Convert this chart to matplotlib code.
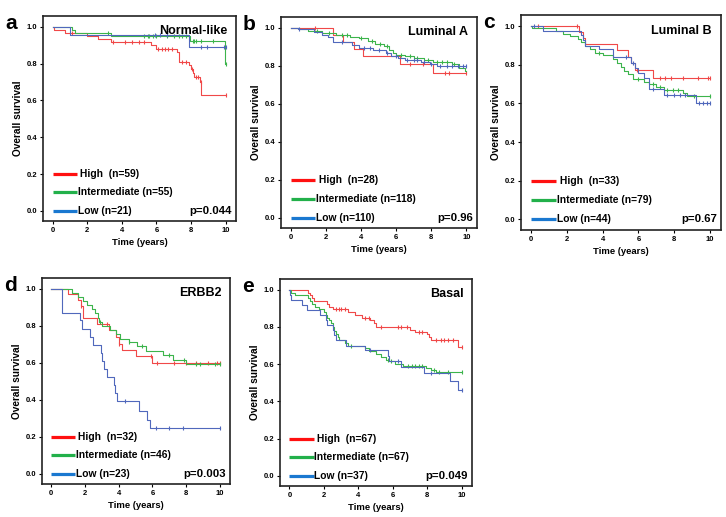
import matplotlib
matplotlib.use("Agg")
import matplotlib.pyplot as plt
import numpy as np

plt.rcParams["font.family"] = ["Liberation Sans", "DejaVu Sans"]

# ── Data: Kaplan-Meier steps (event times, survival after step, censor times) ──
groups = ["High", "Intermediate", "Low"]

# a: Normal-like
a_high_t = [0.1, 0.7, 2.0, 2.6, 3.4, 5.7, 6.0, 7.2, 7.3, 7.9, 8.0, 8.1, 8.2, 8.5, 8.6]
a_high_s = [0.983, 0.966, 0.949, 0.932, 0.915, 0.898, 0.88, 0.86, 0.81, 0.79, 0.77, 0.75, 0.726, 0.70, 0.627]
a_high_c = [1.1, 3.5, 4.2, 4.6, 5.0, 5.3, 6.1, 6.3, 6.5, 6.7, 6.9, 7.5, 7.7, 8.05, 8.3, 8.4, 8.55, 10.0]
a_int_t = [1.1, 1.3, 3.4, 7.95, 9.95]
a_int_s = [0.983, 0.967, 0.95, 0.92, 0.80]
a_int_c = [3.2, 5.3, 5.5, 5.6, 5.8, 6.0, 6.6, 7.0, 7.3, 7.5, 7.7, 8.1, 8.2, 8.3, 8.6, 9.3, 10.0]
a_low_t = [1.0, 7.9]
a_low_s = [0.955, 0.89]
a_low_c = [5.9, 6.2, 6.6, 8.6, 8.9, 9.9, 10.0]

# b: Luminal A
b_high_t = [2.4, 3.0, 3.6, 4.1, 6.2, 8.1]
b_high_s = [0.964, 0.927, 0.889, 0.852, 0.81, 0.763]
b_high_c = [1.4, 6.8, 7.5, 8.8, 9.0, 10.0]
b_int_t = [0.5, 1.0, 1.8, 2.6, 3.4, 3.9, 4.4, 4.8, 5.3, 5.6, 5.8, 6.0, 6.5, 7.0, 7.6, 8.1, 9.2, 9.6, 9.9]
b_int_s = [0.993, 0.985, 0.975, 0.965, 0.955, 0.945, 0.93, 0.915, 0.905, 0.885, 0.87, 0.86, 0.85, 0.84, 0.83, 0.82, 0.81, 0.79, 0.775]
b_int_c = [1.5, 2.2, 2.9, 3.2, 4.0, 4.6, 5.1, 5.5, 6.3, 6.8, 7.2, 7.8, 8.3, 8.6, 8.9, 9.3]
b_low_t = [0.4, 1.3, 1.8, 2.1, 2.4, 3.5, 3.9, 4.7, 5.4, 5.7, 6.1, 6.5, 7.4, 7.9, 8.3]
b_low_s = [0.993, 0.98, 0.965, 0.95, 0.925, 0.91, 0.895, 0.885, 0.87, 0.85, 0.84, 0.83, 0.82, 0.81, 0.80]
b_low_c = [0.5, 2.9, 4.2, 4.5, 5.0, 5.5, 6.0, 6.6, 7.0, 7.2, 7.6, 8.0, 8.5, 8.9, 9.2, 9.5, 9.8, 10.0]

# c: Luminal B
c_high_t = [2.7, 2.9, 3.0, 4.8, 5.4, 5.6, 5.8, 6.8]
c_high_s = [0.97, 0.94, 0.91, 0.875, 0.84, 0.81, 0.773, 0.732]
c_high_c = [0.4, 2.55, 5.9, 7.2, 7.5, 7.8, 8.5, 9.3, 9.9, 10.0]
c_int_t = [0.05, 1.4, 1.8, 2.2, 2.6, 2.8, 3.0, 3.3, 3.6, 4.0, 4.6, 4.8, 5.0, 5.2, 5.4, 5.7, 6.3, 6.6, 7.0, 7.4, 8.5, 8.7]
c_int_s = [0.99, 0.975, 0.96, 0.95, 0.935, 0.92, 0.90, 0.88, 0.86, 0.85, 0.83, 0.81, 0.79, 0.77, 0.75, 0.725, 0.71, 0.70, 0.685, 0.67, 0.655, 0.64]
c_int_c = [3.8, 6.0, 6.8, 7.2, 7.6, 7.9, 8.2, 9.1, 10.0]
c_low_t = [0.7, 2.8, 2.9, 3.0, 3.8, 4.6, 5.6, 5.8, 6.0, 6.3, 6.6, 7.4, 9.2]
c_low_s = [0.977, 0.955, 0.93, 0.90, 0.88, 0.84, 0.81, 0.785, 0.76, 0.73, 0.675, 0.645, 0.60]
c_low_c = [0.2, 5.3, 5.7, 6.8, 7.6, 8.0, 8.3, 8.6, 9.4, 9.6, 9.8, 10.0]

# d: ERBB2
d_high_t = [1.0, 1.6, 1.75, 1.9, 2.7, 3.4, 3.85, 4.0, 4.2, 5.0, 6.0]
d_high_s = [0.969, 0.938, 0.906, 0.844, 0.81, 0.775, 0.74, 0.70, 0.67, 0.635, 0.60]
d_high_c = [1.75, 3.3, 4.0, 5.9, 6.3, 7.3, 8.0, 8.6, 9.3, 9.8, 10.0]
d_int_t = [1.2, 1.6, 1.9, 2.1, 2.4, 2.6, 2.75, 2.85, 3.0, 3.5, 3.85, 4.1, 4.6, 5.1, 5.6, 6.6, 7.2, 8.0]
d_int_s = [0.978, 0.956, 0.933, 0.911, 0.889, 0.867, 0.844, 0.82, 0.80, 0.775, 0.755, 0.73, 0.71, 0.69, 0.665, 0.64, 0.615, 0.595]
d_int_c = [2.9, 4.6, 5.4, 7.0, 7.9, 8.6, 8.8, 9.7, 10.0]
d_low_t = [0.65, 1.7, 1.8, 2.3, 2.5, 2.95, 3.0, 3.15, 3.3, 3.7, 3.8, 3.9, 5.2, 5.7, 5.85]
d_low_s = [0.87, 0.83, 0.783, 0.739, 0.696, 0.652, 0.609, 0.565, 0.522, 0.478, 0.435, 0.391, 0.34, 0.29, 0.245]
d_low_c = [4.4, 6.2, 7.0, 7.8, 10.0]

# e: Basal
e_high_t = [1.1, 1.2, 1.3, 1.4, 2.2, 2.3, 2.5, 3.4, 3.8, 4.2, 4.7, 4.9, 5.0, 7.0, 7.3, 8.0, 8.1, 8.2, 9.8]
e_high_s = [0.985, 0.97, 0.955, 0.94, 0.925, 0.91, 0.895, 0.88, 0.865, 0.85, 0.835, 0.82, 0.80, 0.785, 0.775, 0.76, 0.745, 0.73, 0.69]
e_high_c = [2.7, 2.9, 3.0, 3.2, 4.4, 4.6, 5.3, 6.3, 6.5, 6.8, 7.5, 7.7, 8.5, 8.8, 9.0, 9.2, 9.5, 10.0]
e_int_t = [0.1, 0.3, 1.1, 1.2, 1.3, 1.5, 1.7, 2.0, 2.1, 2.2, 2.3, 2.4, 2.5, 2.6, 2.7, 2.8, 2.9, 3.2, 3.4, 4.4,
           4.6, 5.0, 5.3, 5.6, 5.8, 6.1, 6.6, 7.9, 8.2, 8.5]
e_int_s = [0.985, 0.97, 0.955, 0.94, 0.925, 0.91, 0.895, 0.88, 0.865, 0.85, 0.835, 0.82, 0.80, 0.78, 0.76, 0.745,
           0.73, 0.715, 0.70, 0.685, 0.67, 0.655, 0.64, 0.625, 0.615, 0.60, 0.59, 0.58, 0.57, 0.56]
e_int_c = [3.6, 5.7, 5.9, 6.9, 7.1, 7.3, 7.5, 7.7, 8.4, 8.7, 9.2, 10.0]
e_low_t = [0.05, 0.1, 0.7, 1.0, 1.8, 2.1, 2.2, 2.5, 2.6, 2.7, 3.3, 4.4, 5.7, 5.8, 6.5, 7.8, 9.3, 9.8]
e_low_s = [0.973, 0.946, 0.919, 0.892, 0.865, 0.838, 0.811, 0.784, 0.757, 0.73, 0.70, 0.675, 0.645, 0.615, 0.585, 0.555, 0.51, 0.46]
e_low_c = [4.7, 6.3, 8.2, 10.0]

panel_letters = ["a", "b", "c", "d", "e"]
panel_titles = ["Normal-like", "Luminal A", "Luminal B", "ERBB2", "Basal"]
panel_pvals = ["p=0.044", "p=0.96", "p=0.67", "p=0.003", "p=0.049"]
panel_n = [[59, 55, 21], [28, 118, 110], [33, 79, 44], [32, 46, 23], [67, 67, 37]]

curves = [
    [(a_high_t, a_high_s, a_high_c), (a_int_t, a_int_s, a_int_c), (a_low_t, a_low_s, a_low_c)],
    [(b_high_t, b_high_s, b_high_c), (b_int_t, b_int_s, b_int_c), (b_low_t, b_low_s, b_low_c)],
    [(c_high_t, c_high_s, c_high_c), (c_int_t, c_int_s, c_int_c), (c_low_t, c_low_s, c_low_c)],
    [(d_high_t, d_high_s, d_high_c), (d_int_t, d_int_s, d_int_c), (d_low_t, d_low_s, d_low_c)],
    [(e_high_t, e_high_s, e_high_c), (e_int_t, e_int_s, e_int_c), (e_low_t, e_low_s, e_low_c)],
]

# ── Style ──────────────────────────────────────────────────────────────────
curve_colors = ["#f04848", "#3cb44b", "#5068bc"]
legend_colors = ["#ff1010", "#22b04a", "#1a78d0"]

# axes boxes in pixels: left, top, right, bottom (figure 726x517)
W, H = 726, 517
boxes = [(43, 16, 236, 221), (281, 17, 477, 228), (521, 15, 721, 230),
         (42, 278, 230, 484), (280, 279, 472, 486)]

fig = plt.figure(figsize=(W / 100, H / 100), dpi=100)


def km_plot(ax, t, s, c, color):
    xs = [0] + list(t) + [10.0]
    ys = [1.0] + list(s) + [s[-1]]
    ax.step(xs, ys, where="post", color=color, lw=0.8)
    # censor marks at the survival level in effect
    tt = np.array([0] + list(t))
    ss = np.array([1.0] + list(s))
    cy = [ss[np.searchsorted(tt, ct, side="right") - 1] for ct in c]
    ax.plot(c, cy, ls="none", marker="|", ms=3.5, mew=0.8, color=color)


for i, (l, t, r, b) in enumerate(boxes):
    ax = fig.add_axes([l / W, 1 - b / H, (r - l) / W, (b - t) / H])
    for (tt, ss, cc), col in zip(curves[i], curve_colors):
        km_plot(ax, tt, ss, cc, col)

    ax.set_xlim(-0.55, 10.6)
    ax.set_ylim(-0.055, 1.058)
    ax.set_xticks([0, 2, 4, 6, 8, 10])
    ax.set_yticks([0, 0.2, 0.4, 0.6, 0.8, 1.0])
    ax.set_yticklabels(["0.0", "0.2", "0.4", "0.6", "0.8", "1.0"])
    ax.tick_params(labelsize=5.5, length=2.5, width=0.8, pad=1.5)
    for lab in ax.get_xticklabels() + ax.get_yticklabels():
        lab.set_fontweight("bold")
    for sp in ax.spines.values():
        sp.set_linewidth(1.2)
        sp.set_color("#222222")
    ax.set_xlabel("Time (years)", fontsize=6.8, fontweight="bold", labelpad=3)
    ax.set_ylabel("Overall survival", fontsize=7.3, fontweight="bold", labelpad=3)

    ax.text(0.955, 0.955, panel_titles[i], transform=ax.transAxes, ha="right", va="top",
            fontsize=9, fontweight="bold")
    ax.text(0.98, 0.0, panel_pvals[i], transform=ax.get_yaxis_transform(),
            ha="right", va="center", fontsize=8.2, fontweight="bold")

    # hand-drawn legend in lower left
    for j, (g, n, col) in enumerate(zip(groups, panel_n[i], legend_colors)):
        y = 0.2 - 0.1 * j
        ax.plot([0.0, 1.4], [y, y], color=col, lw=2.3, solid_capstyle="butt")
        label = f"{g}  (n={n})" if g == "High" else f"{g} (n={n})"
        ax.text(1.45 if g != "High" else 1.6, y, label, ha="left", va="center",
                fontsize=7.4, fontweight="bold")

    fig.text((l - 38) / W, 1 - (t - 2) / H, panel_letters[i], ha="left", va="top",
             fontsize=15, fontweight="bold")

fig.savefig("out.png", dpi=100)
